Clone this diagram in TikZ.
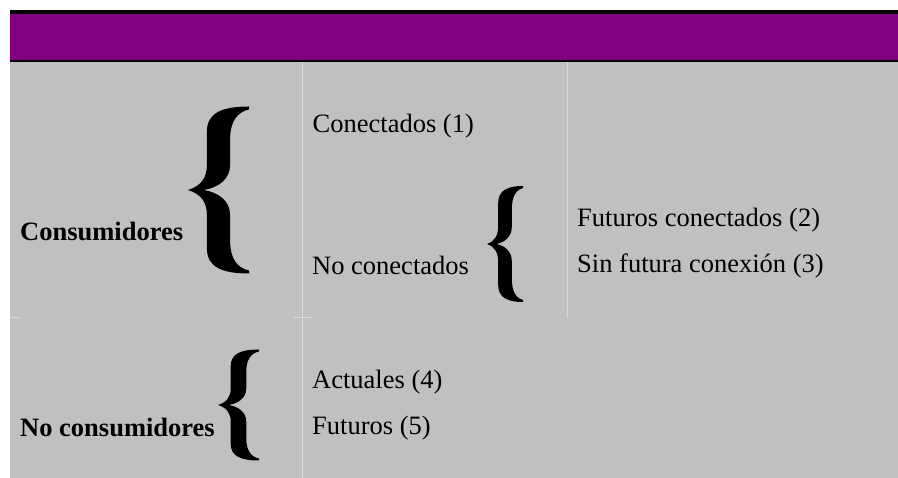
\documentclass[tikz,border=0pt]{standalone}
\usepackage{fontspec}
\setmainfont{Liberation Serif}
\definecolor{headpurple}{HTML}{800080}
\definecolor{cellgray}{HTML}{C0C0C0}
\definecolor{gridcol}{HTML}{DADADA}
\tikzset{
  celltext/.style={anchor=base west, inner sep=0pt, font=\fontsize{26.5}{30}\selectfont},
  grouptext/.style={celltext, font=\fontsize{26.5}{30}\selectfont\bfseries},
  gridline/.style={draw=gridcol, line width=1pt},
  curlybrace/.pic={
    \fill (0,0) .. controls (0.22,0.05) and (0.31,0.15) .. (0.31,0.3)
      -- (0.31,0.7) .. controls (0.31,0.92) and (0.55,1) .. (1,1)
      -- (1,0.965) .. controls (0.8,0.93) and (0.69,0.82) .. (0.69,0.6)
      -- (0.69,0.3) .. controls (0.69,0.13) and (0.5,0.03) .. (0.26,0)
      .. controls (0.5,-0.03) and (0.69,-0.13) .. (0.69,-0.3)
      -- (0.69,-0.6) .. controls (0.69,-0.82) and (0.8,-0.93) .. (1,-0.965)
      -- (1,-1) .. controls (0.55,-1) and (0.31,-0.92) .. (0.31,-0.7)
      -- (0.31,-0.3) .. controls (0.31,-0.15) and (0.22,-0.05) .. (0,0) -- cycle;
  }
}
\begin{document}
\begin{tikzpicture}[x=1pt, y=-1pt]
    \useasboundingbox[fill=white] (0,0) rectangle (898,478);

    % Header bar and table body
    \fill[black] (10,10) rectangle (898,62);
    \fill[headpurple] (10,14) rectangle (898,60);
    \fill[cellgray] (10,62) rectangle (898,478);

    % Faint cell borders
    \draw[gridline] (302,62) -- (302,478);
    \draw[gridline] (567,62) -- (567,318);
    \draw[gridline] (10,318) -- (19,318);
    \draw[gridline] (294,318) -- (312,318);

    % Groups
    \node[grouptext] (cons) at (20,240.7) {Consumidores};
    \node[grouptext] (nocons) at (20,437) {No consumidores};

    % Braces
    \pic[xscale=61, yscale=83.5] (brcons) at (188,190) {curlybrace};
    \pic[xscale=41, yscale=55.5] (brnocons) at (218,405) {curlybrace};
    \pic[xscale=36, yscale=58] (brnoconn) at (487,244) {curlybrace};

    % Subgroups
    \node[celltext] (conn) at (312.5,132.7) {Conectados (1)};
    \node[celltext] (noconn) at (312,275) {No conectados};
    \node[celltext] (futconn) at (577,227) {Futuros conectados (2)};
    \node[celltext] (sinfut) at (577,273) {Sin futura conexión (3)};
    \node[celltext] (act) at (312,389) {Actuales (4)};
    \node[celltext] (fut) at (312,435) {Futuros (5)};
\end{tikzpicture}
\end{document}
